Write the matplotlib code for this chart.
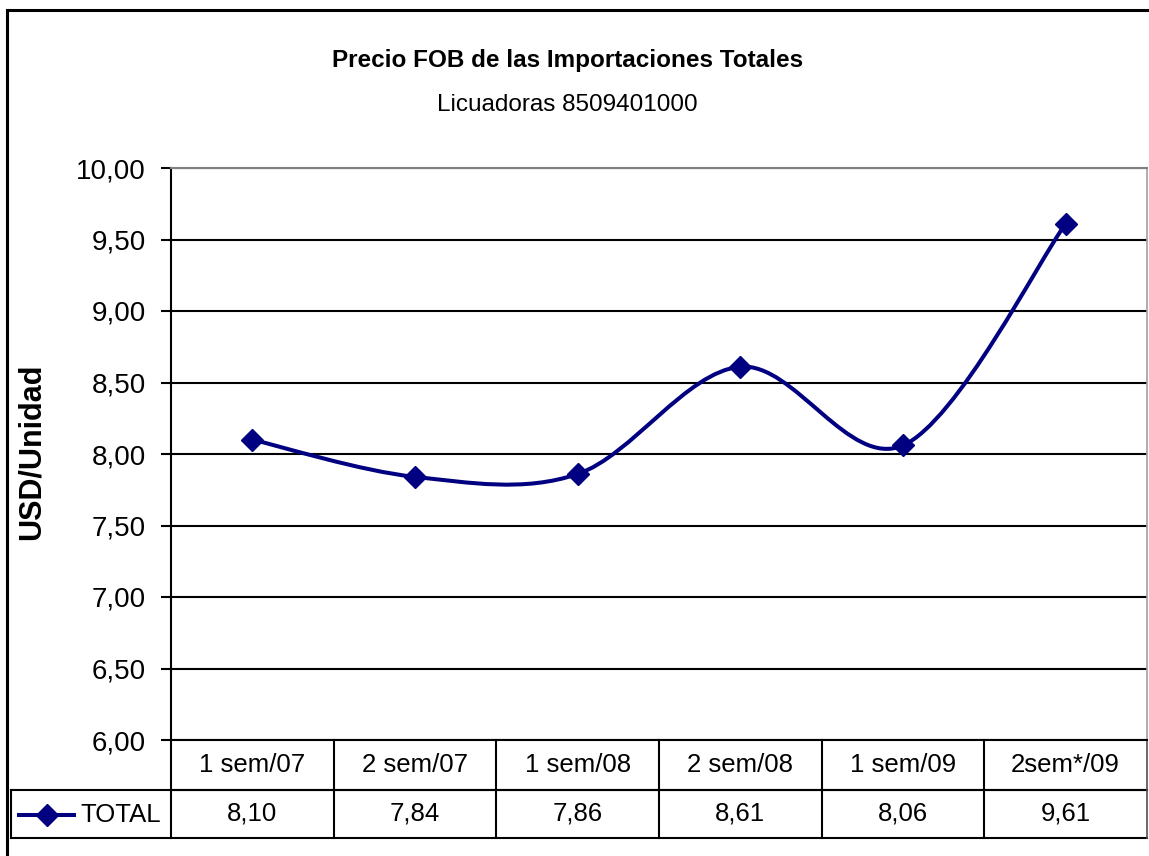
import numpy as np
import matplotlib.pyplot as plt
from matplotlib.path import Path
from matplotlib.patches import PathPatch
from matplotlib.lines import Line2D
from matplotlib.transforms import blended_transform_factory

plt.rcParams['font.family'] = ['Liberation Sans', 'DejaVu Sans']

categories = ['1 sem/07', '2 sem/07', '1 sem/08', '2 sem/08', '1 sem/09', '2sem*/09']
values = [8.10, 7.84, 7.86, 8.61, 8.06, 9.61]
value_labels = ['8,10', '7,84', '7,86', '8,61', '8,06', '9,61']
series_name = 'TOTAL'
yticks = [6.0, 6.5, 7.0, 7.5, 8.0, 8.5, 9.0, 9.5, 10.0]

navy = '#000080'
W, H = 1149, 856

fig = plt.figure(figsize=(W / 100, H / 100), dpi=100)
ax = fig.add_axes([171 / W, 1 - 740 / H, (1147 - 171) / W, (740 - 168) / H])

x = np.arange(len(values))
y = np.array(values)

# smoothed line (cardinal spline as cubic bezier segments, like Excel)
verts = [(x[0], y[0])]
codes = [Path.MOVETO]
n = len(x)
for i in range(n - 1):
    p0 = np.array([x[max(i - 1, 0)], y[max(i - 1, 0)]])
    p1 = np.array([x[i], y[i]])
    p2 = np.array([x[i + 1], y[i + 1]])
    p3 = np.array([x[min(i + 2, n - 1)], y[min(i + 2, n - 1)]])
    c1 = p1 + (p2 - p0) / 6
    c2 = p2 - (p3 - p1) / 6
    verts += [tuple(c1), tuple(c2), tuple(p2)]
    codes += [Path.CURVE4] * 3
ax.add_patch(PathPatch(Path(verts, codes), facecolor='none', edgecolor=navy,
                       lw=2.9, zorder=3, capstyle='round', joinstyle='round'))
ax.plot(x, y, linestyle='none', marker='D', markersize=11, color=navy, zorder=4)

ax.set_xlim(-0.5, len(values) - 0.5)
ax.set_ylim(6, 10)
ax.set_yticks(yticks)
ax.set_yticklabels([('%.2f' % v).replace('.', ',') for v in yticks], fontsize=20)
ax.tick_params(axis='y', direction='out', length=7, width=1.5, pad=11)
ax.set_xticks([])
ax.grid(axis='y', color='black', lw=1.5)
ax.set_axisbelow(True)
ax.spines['left'].set_linewidth(1.5)
ax.spines['bottom'].set_linewidth(1.5)
ax.spines['top'].set_color('#808080')
ax.spines['top'].set_linewidth(1.5)
ax.spines['right'].set_color('#a0a0a0')
ax.spines['right'].set_linewidth(1.2)

# data table under the plot
tr = blended_transform_factory(ax.transData, ax.transAxes)
row1 = -(790 - 740) / (740 - 168)
row2 = -(838 - 740) / (740 - 168)
left_fig = (11 - 171) / (1147 - 171)
kw = dict(color='black', lw=1.5, clip_on=False)
ax.plot([-0.5, len(values) - 0.5], [row1, row1], transform=tr, **kw)
ax.plot([left_fig, 1], [row1, row1], transform=ax.transAxes, **kw)
ax.plot([left_fig, 1], [row2, row2], transform=ax.transAxes, **kw)
ax.plot([left_fig, left_fig], [row1, row2], transform=ax.transAxes, **kw)
ax.plot([0, 0], [0, row2], transform=ax.transAxes, **kw)
for b in np.arange(0.5, len(values) - 0.5, 1):
    ax.plot([b, b], [0, row2], transform=tr, **kw)
ax.plot([1, 1], [0, row2], transform=ax.transAxes, color='#505050', lw=1.2, clip_on=False)

for i, (c, v) in enumerate(zip(categories, value_labels)):
    ax.text(i, row1 / 2, c, transform=tr, ha='center', va='center', fontsize=18.5)
    ax.text(i, (row1 + row2) / 2, v, transform=tr, ha='center', va='center', fontsize=18.5)

# legend key inside the table
ymid = 1 - 815 / H
fig.add_artist(Line2D([19 / W, 74 / W], [ymid, ymid], color=navy, lw=2.9))
fig.add_artist(Line2D([47 / W], [ymid], color=navy, marker='D', markersize=11, linestyle='none'))
fig.text(80 / W, ymid, series_name, ha='left', va='center', fontsize=18.5)

# titles and axis label
fig.text(0.494, 1 - 60 / H, 'Precio FOB de las Importaciones Totales', ha='center', va='center',
         fontsize=17.5, fontweight='bold')
fig.text(0.494, 1 - 105 / H, 'Licuadoras 8509401000', ha='center', va='center',
         fontsize=17.5)
fig.text(32 / W, 1 - 452 / H, 'USD/Unidad', rotation=90, ha='center', va='center',
         fontsize=22, fontweight='bold')

# outer chart frame (only top and left edges visible)
fig.add_artist(Line2D([7 / W, 1], [1 - 10 / H, 1 - 10 / H], color='black', lw=2.2))
fig.add_artist(Line2D([7 / W, 7 / W], [0, 1 - 10 / H], color='black', lw=2.2))

fig.savefig('out.png', dpi=100, facecolor='white')
